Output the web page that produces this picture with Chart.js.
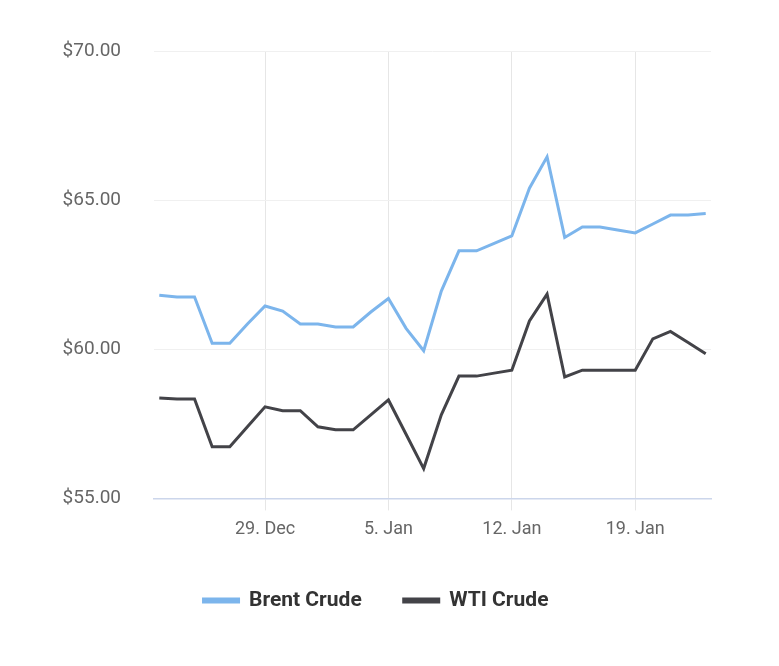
<!DOCTYPE html>
<html><head><meta charset="utf-8">
<script src="https://cdn.jsdelivr.net/npm/chart.js@4/dist/chart.umd.min.js"></script>
<style>html,body{margin:0;padding:0;background:#fff}#w{width:779px;height:666px}</style>
</head><body><div id="w"><canvas id="c"></canvas></div>
<script>
const days = ["23 Dec","24 Dec","25 Dec","26 Dec","27 Dec","28 Dec","29 Dec","30 Dec","31 Dec","1 Jan","2 Jan","3 Jan","4 Jan","5 Jan","6 Jan","7 Jan","8 Jan","9 Jan","10 Jan","11 Jan","12 Jan","13 Jan","14 Jan","15 Jan","16 Jan","17 Jan","18 Jan","19 Jan","20 Jan","21 Jan","22 Jan","23 Jan"];
const brent = [61.81,61.75,61.75,60.2,60.2,60.85,61.45,61.28,60.85,60.85,60.75,60.75,61.25,61.7,60.7,59.95,61.95,63.3,63.3,63.55,63.8,65.4,66.45,63.75,64.1,64.1,64.0,63.9,64.2,64.5,64.5,64.55];
const wti = [58.37,58.33,58.33,56.73,56.73,57.4,58.07,57.94,57.94,57.4,57.3,57.3,57.8,58.3,57.15,56.0,57.8,59.1,59.1,59.2,59.3,60.95,61.85,59.07,59.3,59.3,59.3,59.3,60.35,60.6,60.23,59.85];
const tickIdx = [6,13,20,27];
const tickLabels = ["29. Dec","5. Jan","12. Jan","19. Jan"];
const yTicks = [55,60,65,70];
const pts = a => a.map((v,i)=>({x:i,y:v}));
Chart.defaults.font.family = "Roboto";
new Chart(document.getElementById('c'),{
  type:'line',
  data:{datasets:[
    {label:'Brent Crude',data:pts(brent),borderColor:'#7cb5ec',backgroundColor:'#7cb5ec',borderWidth:3,pointRadius:0,tension:0},
    {label:'WTI Crude',data:pts(wti),borderColor:'#434348',backgroundColor:'#434348',borderWidth:3,pointRadius:0,tension:0}
  ]},
  options:{
    responsive:true,maintainAspectRatio:false,animation:false,
    layout:{padding:{top:51,right:68,left:41,bottom:45}},
    plugins:{legend:{position:'bottom',labels:{boxWidth:35,boxHeight:3,padding:42,color:'#333',font:{size:21,weight:'bold'}}},tooltip:{enabled:false}},
    scales:{
      x:{type:'linear',min:-0.3,max:31.3,
        afterBuildTicks:s=>{s.ticks=tickIdx.map(v=>({value:v}));},
        ticks:{callback:v=>tickLabels[tickIdx.indexOf(v)],color:'#666',font:{size:18},padding:8,maxRotation:0},
        grid:{color:'#e6e6e6',drawTicks:true,tickLength:12},border:{color:'#ccd6eb',width:1.5}},
      y:{min:55,max:70,
        afterBuildTicks:s=>{s.ticks=yTicks.map(v=>({value:v}));},
        afterFit:s=>{s.width=113;},
        ticks:{callback:v=>'$'+v.toFixed(2),color:'#666',font:{size:19},padding:33},
        grid:{color:'#f0f0f0',drawTicks:false},border:{display:false}}
    }
  }
});
</script></body></html>
